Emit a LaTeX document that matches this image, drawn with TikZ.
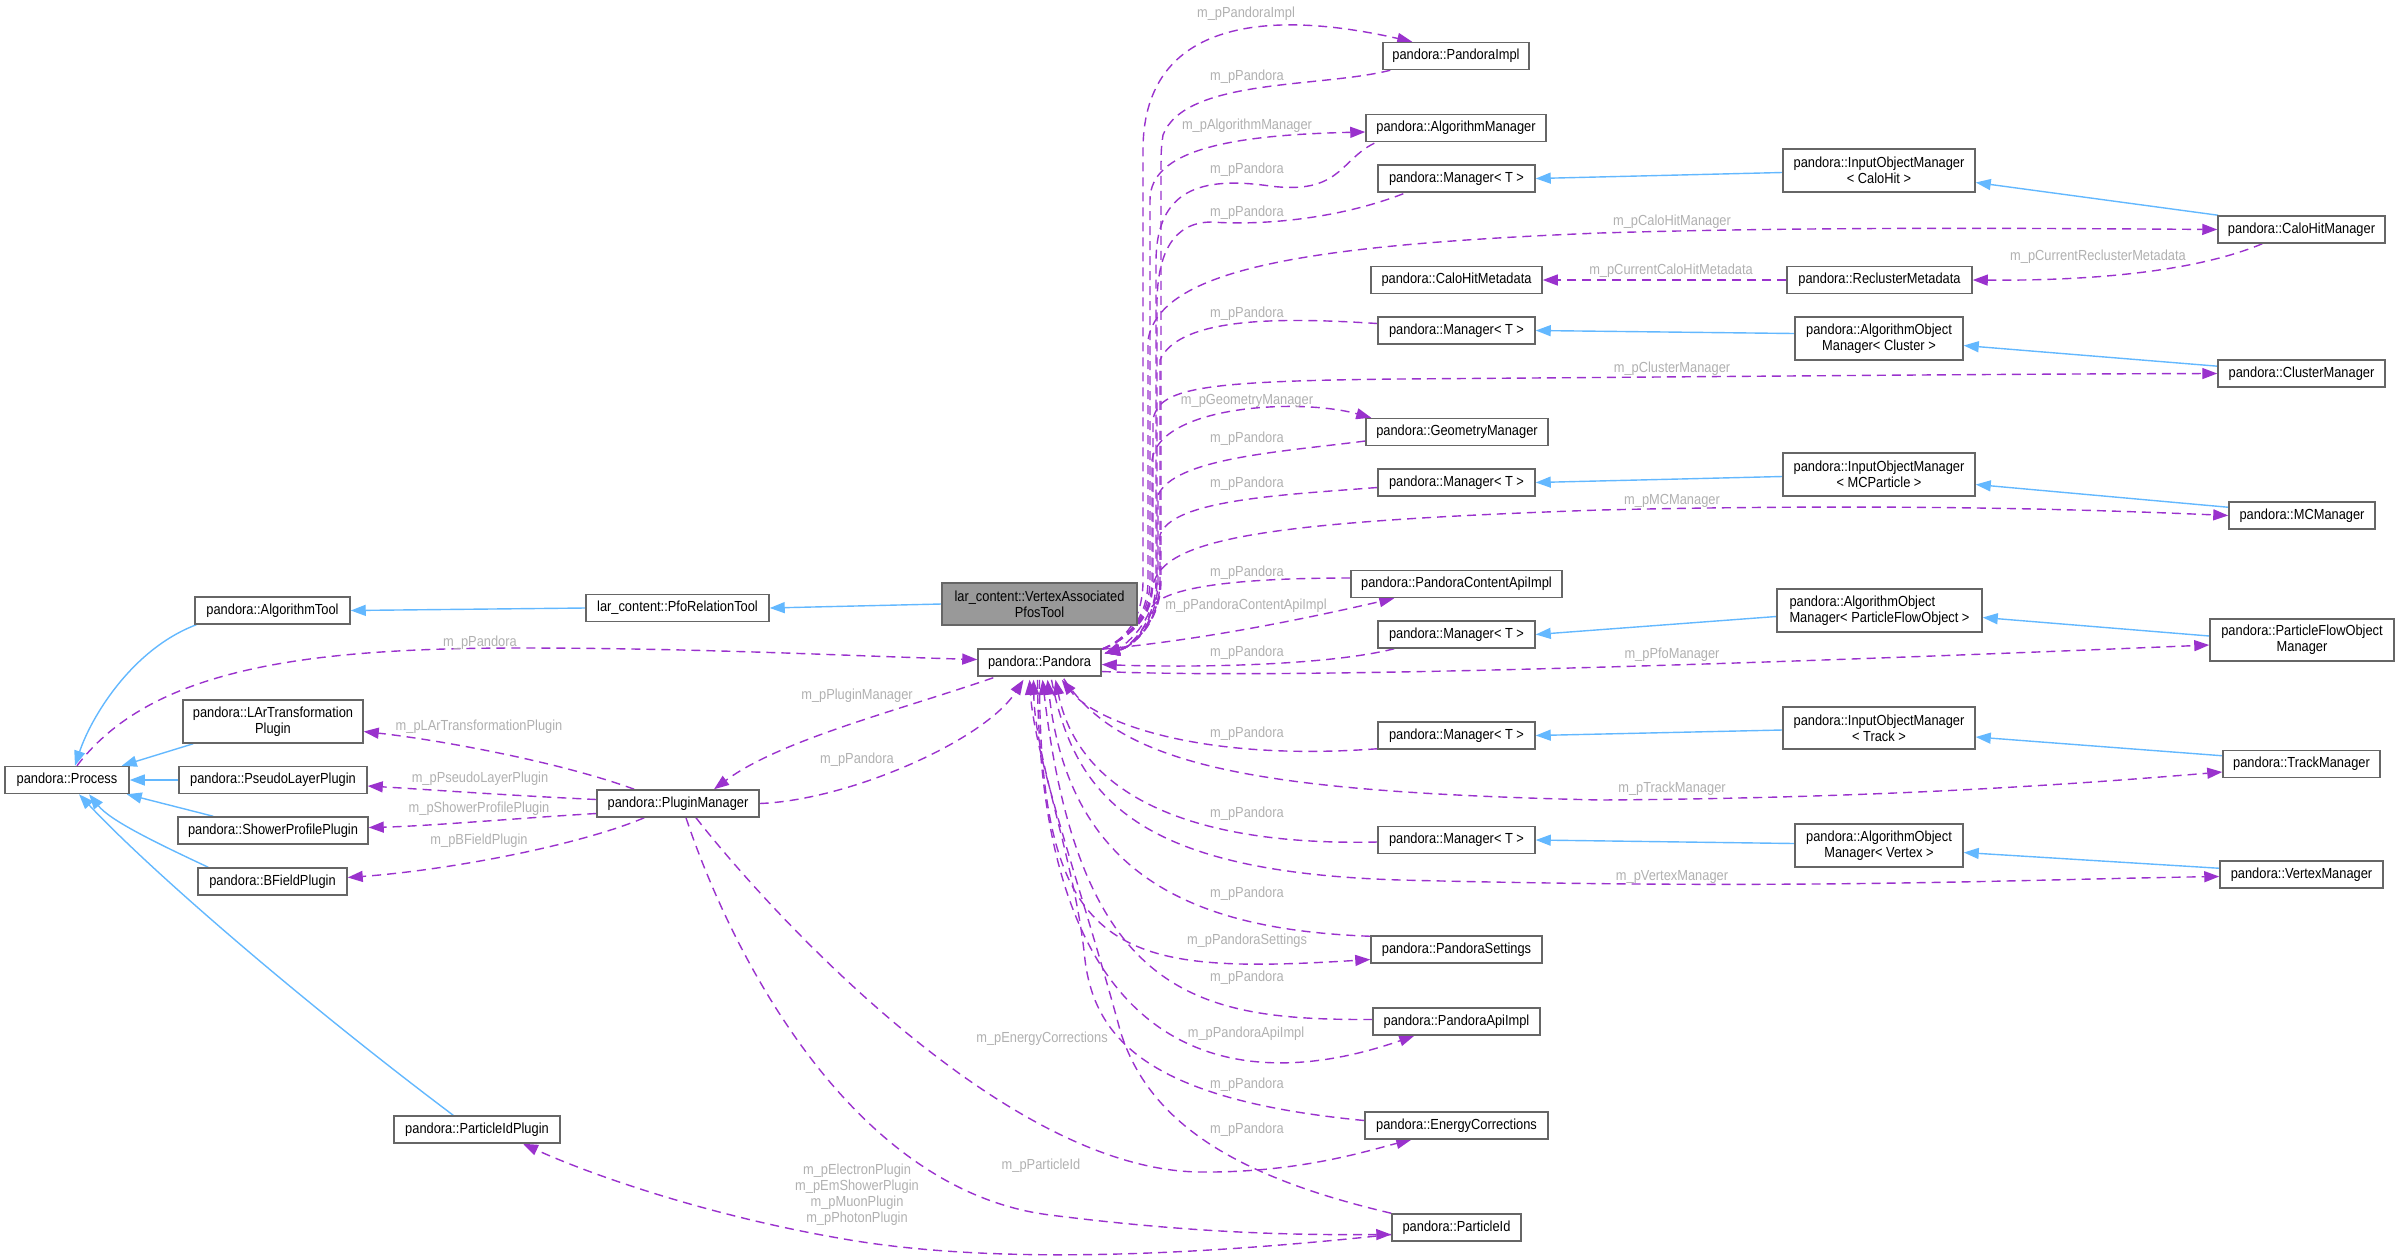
\documentclass[tikz,border=0pt]{standalone}
\usepackage{fontspec}
\setmainfont{Liberation Sans}[FakeStretch=0.88]
\usetikzlibrary{arrows.meta,calc}
\definecolor{purp}{HTML}{9A32CD}
\definecolor{lblue}{HTML}{63B8FF}
\definecolor{ngray}{HTML}{666666}
\definecolor{fgray}{HTML}{999999}
\definecolor{lgray}{HTML}{B0B0B0}
\pgfdeclarelayer{bg}
\pgfsetlayers{bg,main}
\newcommand\dfs{\fontsize{14.6pt}{15.7pt}\selectfont}
\newcommand\lfs{\fontsize{14.6pt}{16pt}\selectfont}
\tikzset{
  nbox/.style={draw=ngray, line width=1.5pt, fill=white, inner sep=0pt, align=center, font=\dfs, minimum height=27pt},
  nbox2/.style={nbox, minimum height=43pt},
  lbl/.style={text=lgray, inner sep=0pt, align=center, font=\lfs},
  usearr/.style={draw=purp, line width=1.4pt, dash pattern=on 9pt off 6pt, -{Triangle[length=15pt,width=11pt]}},
  inharr/.style={draw=lblue, line width=1.4pt, -{Triangle[length=15pt,width=11pt]}}
}
\begin{document}
\begin{tikzpicture}[x=1pt,y=-1pt]
\useasboundingbox (0,0) rectangle (2399,1259);
% ---------- nodes ----------
\node[nbox2, minimum width=195pt, minimum height=42pt, fill=fgray] (vapt) at (1039.5,604) {lar\_content::VertexAssociated\\PfosTool};
\node[nbox, minimum width=183pt] (pfort) at (677.5,608) {lar\_content::PfoRelationTool};
\node[nbox, minimum width=155pt] (algtool) at (272.5,610.5) {pandora::AlgorithmTool};
\node[nbox, minimum width=124pt] (process) at (67,780) {pandora::Process};
\node[nbox2, minimum width=180pt] (lartp) at (273,721.5) {pandora::LArTransformation\\Plugin};
\node[nbox, minimum width=188pt] (pslp) at (273,780) {pandora::PseudoLayerPlugin};
\node[nbox, minimum width=190pt] (shpp) at (273,830.5) {pandora::ShowerProfilePlugin};
\node[nbox, minimum width=149pt] (bfp) at (272.5,881.5) {pandora::BFieldPlugin};
\node[nbox, minimum width=166pt] (pidp) at (477,1129.5) {pandora::ParticleIdPlugin};
\node[nbox, minimum width=162pt] (plugmgr) at (678,803.5) {pandora::PluginManager};
\node[nbox, minimum width=123pt] (pandora) at (1039.5,662.5) {pandora::Pandora};
\node[nbox, minimum width=146pt] (pimpl) at (1456,56) {pandora::PandoraImpl};
\node[nbox, minimum width=180pt] (algmgr) at (1456,128) {pandora::AlgorithmManager};
\node[nbox, minimum width=157pt] (mgr1) at (1456.5,178.5) {pandora::Manager< T >};
\node[nbox, minimum width=171pt] (chmeta) at (1456.5,280) {pandora::CaloHitMetadata};
\node[nbox, minimum width=157pt] (mgr2) at (1456.5,330.5) {pandora::Manager< T >};
\node[nbox, minimum width=182pt] (geomgr) at (1457,432) {pandora::GeometryManager};
\node[nbox, minimum width=157pt] (mgr3) at (1456.5,482.5) {pandora::Manager< T >};
\node[nbox, minimum width=211pt] (pcapi) at (1456.5,584) {pandora::PandoraContentApiImpl};
\node[nbox, minimum width=157pt] (mgr4) at (1456.5,634.5) {pandora::Manager< T >};
\node[nbox, minimum width=157pt] (mgr5) at (1456.5,735.5) {pandora::Manager< T >};
\node[nbox, minimum width=157pt] (mgr6) at (1456.5,840) {pandora::Manager< T >};
\node[nbox, minimum width=171pt] (psettings) at (1456.5,949.5) {pandora::PandoraSettings};
\node[nbox, minimum width=167pt] (papi) at (1456.5,1021.5) {pandora::PandoraApiImpl};
\node[nbox, minimum width=183pt] (ecorr) at (1456.5,1125.5) {pandora::EnergyCorrections};
\node[nbox, minimum width=129pt] (pid) at (1456.5,1227.5) {pandora::ParticleId};
\node[nbox2, minimum width=192pt] (iomch) at (1879,170.5) {pandora::InputObjectManager\\< CaloHit >};
\node[nbox, minimum width=167pt] (chmgr) at (2301.5,229.5) {pandora::CaloHitManager};
\node[nbox, minimum width=185pt] (reclmeta) at (1879.5,280) {pandora::ReclusterMetadata};
\node[nbox2, minimum width=168pt] (aomcl) at (1879,338.5) {pandora::AlgorithmObject\\Manager< Cluster >};
\node[nbox, minimum width=167pt] (clmgr) at (2301.5,373.5) {pandora::ClusterManager};
\node[nbox2, minimum width=192pt] (iommc) at (1879,474.5) {pandora::InputObjectManager\\< MCParticle >};
\node[nbox, minimum width=146pt] (mcmgr) at (2302,515.5) {pandora::MCManager};
\node[nbox2, minimum width=205pt, align=left] (aompfo) at (1879.5,610.5) {pandora::AlgorithmObject\\Manager< ParticleFlowObject >};
\node[nbox2, minimum width=184pt, minimum height=42pt] (pfomgr) at (2302,640) {pandora::ParticleFlowObject\\Manager};
\node[nbox2, minimum width=192pt, minimum height=42pt] (iomtr) at (1879,728) {pandora::InputObjectManager\\< Track >};
\node[nbox, minimum width=157pt] (trmgr) at (2301.5,764) {pandora::TrackManager};
\node[nbox2, minimum width=168pt] (aomvx) at (1879,845.5) {pandora::AlgorithmObject\\Manager< Vertex >};
\node[nbox, minimum width=163pt] (vxmgr) at (2301.5,874.5) {pandora::VertexManager};
% anchors on Pandora
\coordinate (pin) at ($(pandora.north east)+(3,5)$);
\coordinate (pout) at ($(pandora.north east)+(0,1)$);
% ---------- edge labels ----------
\node[lbl] (l1) at (480,643) {m\_pPandora};
\node[lbl] (l2) at (479,727) {m\_pLArTransformationPlugin};
\node[lbl] (l3) at (480,779) {m\_pPseudoLayerPlugin};
\node[lbl] (l4) at (479,809) {m\_pShowerProfilePlugin};
\node[lbl] (l5) at (479,841) {m\_pBFieldPlugin};
\node[lbl] (l6) at (857,696) {m\_pPluginManager};
\node[lbl] (l7) at (857,760) {m\_pPandora};
\node[lbl] (l8) at (1246,14) {m\_pPandoraImpl};
\node[lbl] (l9) at (1247,77) {m\_pPandora};
\node[lbl] (l10) at (1247,126) {m\_pAlgorithmManager};
\node[lbl] (l11) at (1247,170) {m\_pPandora};
\node[lbl] (l12) at (1247,213) {m\_pPandora};
\node[lbl] (l13) at (1672,222) {m\_pCaloHitManager};
\node[lbl] (l14) at (1671,271) {m\_pCurrentCaloHitMetadata};
\node[lbl] (l15) at (2098,257) {m\_pCurrentReclusterMetadata};
\node[lbl] (l16) at (1247,314) {m\_pPandora};
\node[lbl] (l17) at (1672,369) {m\_pClusterManager};
\node[lbl] (l18) at (1247,401) {m\_pGeometryManager};
\node[lbl] (l19) at (1247,439) {m\_pPandora};
\node[lbl] (l20) at (1247,484) {m\_pPandora};
\node[lbl] (l21) at (1672,501) {m\_pMCManager};
\node[lbl] (l22) at (1247,573) {m\_pPandora};
\node[lbl] (l23) at (1246,606) {m\_pPandoraContentApiImpl};
\node[lbl] (l24) at (1247,653) {m\_pPandora};
\node[lbl] (l25) at (1672,655) {m\_pPfoManager};
\node[lbl] (l26) at (1247,734) {m\_pPandora};
\node[lbl] (l27) at (1672,789) {m\_pTrackManager};
\node[lbl] (l28) at (1247,814) {m\_pPandora};
\node[lbl] (l29) at (1672,877) {m\_pVertexManager};
\node[lbl] (l30) at (1247,894) {m\_pPandora};
\node[lbl] (l31) at (1247,941) {m\_pPandoraSettings};
\node[lbl] (l32) at (1247,978) {m\_pPandora};
\node[lbl] (l33) at (1246,1034) {m\_pPandoraApiImpl};
\node[lbl] (l34) at (1247,1085) {m\_pPandora};
\node[lbl] (l35) at (1042,1039) {m\_pEnergyCorrections};
\node[lbl] (l36) at (1247,1130) {m\_pPandora};
\node[lbl] (l37) at (1041,1166) {m\_pParticleId};
\node[lbl] (l38) at (857,1195) {m\_pElectronPlugin\\m\_pEmShowerPlugin\\m\_pMuonPlugin\\m\_pPhotonPlugin};
% ---------- edges ----------
\begin{pgfonlayer}{bg}
% inheritance
\draw[inharr] (vapt.west) -- (pfort.east);
\draw[inharr] (pfort.west) -- (algtool.east);
\draw[inharr] ($(algtool.south west)+(2,0)$) .. controls (130,650) and (90,720) .. ($(process.north)+(8,0)$);
\draw[inharr] ($(lartp.south west)+(11,0)$) -- ($(process.north east)+(-8,0)$);
\draw[inharr] (pslp.west) -- (process.east);
\draw[inharr] ($(shpp.north west)+(36,0)$) -- ($(process.south east)+(-3,0)$);
\draw[inharr] ($(bfp.north west)+(11,0)$) .. controls (150,840) and (110,820) .. ($(process.south)+(22,0)$);
\draw[inharr] ($(pidp.north west)+(60,0)$) .. controls (300,1000) and (150,870) .. ($(process.south)+(12,0)$);
\draw[inharr] ($(iomch.west)+(0,2)$) -- (mgr1.east);
\draw[inharr] ($(chmgr.north west)+(1,0)$) -- ($(iomch.east)+(0,12)$);
\draw[inharr] ($(aomcl.west)+(0,-5)$) -- (mgr2.east);
\draw[inharr] ($(clmgr.north west)+(1,7)$) -- ($(aomcl.east)+(0,7)$);
\draw[inharr] ($(iommc.west)+(0,2)$) -- (mgr3.east);
\draw[inharr] ($(mcmgr.north west)+(0,6)$) -- ($(iommc.east)+(0,10)$);
\draw[inharr] ($(aompfo.west)+(0,6)$) -- (mgr4.east);
\draw[inharr] ($(pfomgr.west)+(0,-4)$) -- ($(aompfo.east)+(0,7)$);
\draw[inharr] ($(iomtr.west)+(0,2)$) -- (mgr5.east);
\draw[inharr] ($(trmgr.north west)+(0,6)$) -- ($(iomtr.east)+(0,9)$);
\draw[inharr] ($(aomvx.west)+(0,-2)$) -- (mgr6.east);
\draw[inharr] ($(vxmgr.north west)+(0,8)$) -- ($(aomvx.east)+(0,7)$);
% usage: upper bundle
\draw[usearr] (pout) .. controls (1125,640) and (1143,620) .. (1143,580) -- (1143,150) .. controls (1143,30) and (1250,5) .. ($(pimpl.north west)+(30,0)$);
\draw[usearr] ($(pimpl.south west)+(8,0)$) .. controls (1320,88) and (1185,78) .. (1163,135) .. controls (1161,150) .. (1161,180) -- (1161,580) .. controls (1161,625) and (1130,648) .. (pin);
\draw[usearr] (pout) .. controls (1125,640) and (1150,620) .. (1150,580) -- (1150,200) .. controls (1150,150) and (1230,135) .. ($(algmgr.west)+(0,4)$);
\draw[usearr] ($(algmgr.south west)+(9,1)$) .. controls (1340,160) and (1340,195) .. (1270,186) .. controls (1200,176) and (1157,190) .. (1156,260) -- (1156,580) .. controls (1156,625) and (1128,648) .. (pin);
\draw[usearr] ($(mgr1.south west)+(26,1)$) .. controls (1330,222) and (1250,225) .. (1212,222) .. controls (1172,222) and (1158,255) .. (1157,300) -- (1157,580) .. controls (1157,625) and (1128,648) .. (pin);
\draw[usearr] (pout) .. controls (1125,640) and (1148,620) .. (1148,580) -- (1148,340) .. controls (1160,270) and (1300,245) .. (1600,233) .. controls (1800,227) and (2000,228) .. (chmgr.west);
\draw[usearr] (reclmeta.west) -- (chmeta.east);
\draw[usearr] ($(chmgr.south west)+(45,0)$) .. controls (2200,270) and (2100,281) .. (reclmeta.east);
\draw[usearr] ($(mgr2.west)+(0,-7)$) .. controls (1290,318) and (1180,315) .. (1160,360) -- (1160,580) .. controls (1160,625) and (1130,648) .. (pin);
\draw[usearr] (pout) .. controls (1125,640) and (1153,620) .. (1153,580) -- (1153,420) .. controls (1158,388) and (1200,381) .. (1400,379) .. controls (1800,376) and (2000,374) .. (clmgr.west);
\draw[usearr] (pout) .. controls (1125,640) and (1152,620) .. (1152,580) -- (1152,460) .. controls (1160,405) and (1300,398) .. ($(geomgr.north west)+(6,0)$);
\draw[usearr] ($(geomgr.west)+(0,9)$) .. controls (1280,452) and (1175,458) .. (1158,495) -- (1158,580) .. controls (1158,625) and (1130,648) .. (pin);
\draw[usearr] ($(mgr3.west)+(0,5)$) .. controls (1280,495) and (1172,500) .. (1160,535) -- (1160,580) .. controls (1160,625) and (1130,648) .. (pin);
\draw[usearr] (pout) .. controls (1125,640) and (1152,620) .. (1152,590) .. controls (1158,540) and (1250,522) .. (1600,510) .. controls (1900,503) and (2100,510) .. (mcmgr.west);
\draw[usearr] ($(pcapi.west)+(0,-6)$) .. controls (1250,578) and (1160,585) .. (1150,610) .. controls (1140,635) and (1120,648) .. (pin);
\draw[usearr] (pout) .. controls (1200,640) and (1300,620) .. ($(pcapi.south west)+(44,0)$);
\draw[usearr] ($(mgr4.south west)+(17,0)$) .. controls (1330,665) and (1200,668) .. ($(pandora.east)+(0,2)$);
\draw[usearr] ($(pandora.east)+(0,9)$) .. controls (1300,680) and (1800,662) .. ($(pfomgr.west)+(0,5)$);
% usage: lower fan
\draw[usearr] ($(mgr5.south west)+(0,-1)$) .. controls (1200,762) and (1095,722) .. ($(pandora.south east)+(-40,3)$);
\draw[usearr] ($(pandora.south east)+(-38,2)$) .. controls (1120,765) and (1250,792) .. (1600,800) .. controls (1900,798) and (2100,782) .. ($(trmgr.west)+(0,8)$);
\draw[usearr] ($(mgr6.west)+(0,2)$) .. controls (1200,846) and (1080,800) .. ($(pandora.south)+(16,3)$);
\draw[usearr] ($(pandora.south)+(12,3)$) .. controls (1075,800) and (1140,872) .. (1400,880) .. controls (1800,890) and (2000,880) .. ($(vxmgr.west)+(0,2)$);
\draw[usearr] ($(psettings.north west)+(0,1)$) .. controls (1200,930) and (1070,880) .. ($(pandora.south)+(8,3)$);
\draw[usearr] ($(pandora.south)+(0,3)$) .. controls (1040,960) and (1120,975) .. ($(psettings.west)+(0,10)$);
\draw[usearr] ($(papi.west)+(0,-2)$) .. controls (1200,1020) and (1080,1000) .. ($(pandora.south)+(3,3)$);
\draw[usearr] ($(pandora.south)+(-2,3)$) .. controls (1040,1060) and (1230,1100) .. ($(papi.south west)+(42,0)$);
\draw[usearr] ($(ecorr.west)+(0,-5)$) .. controls (1150,1100) and (1095,1040) .. (1085,960) .. controls (1075,860) and (1035,760) .. ($(pandora.south)+(-6,3)$);
\draw[usearr] (pid.north west) .. controls (1250,1180) and (1150,1130) .. (1120,1030) .. controls (1085,900) and (1035,760) .. ($(pandora.south)+(-10,3)$);
% usage: left part
\draw[usearr] ($(process.north)+(10,0)$) .. controls (150,670) and (300,648) .. (520,648) .. controls (700,648) and (850,656) .. ($(pandora.west)+(0,-3)$);
\draw[usearr] (plugmgr.east) .. controls (850,800) and (985,740) .. ($(pandora.south)+(-16,3)$);
\draw[usearr] ($(pandora.south west)+(16,1)$) .. controls (900,710) and (780,740) .. ($(plugmgr.north)+(36,0)$);
\draw[usearr] ($(plugmgr.north west)+(38,0)$) .. controls (560,762) and (440,740) .. ($(lartp.east)+(0,10)$);
\draw[usearr] ($(plugmgr.west)+(0,-4)$) .. controls (500,795) and (420,789) .. ($(pslp.east)+(0,6)$);
\draw[usearr] ($(plugmgr.west)+(0,10)$) .. controls (520,818) and (430,826) .. ($(shpp.east)+(0,-3)$);
\draw[usearr] ($(plugmgr.south west)+(48,0)$) .. controls (580,845) and (450,870) .. ($(bfp.east)+(0,-4)$);
\draw[usearr] ($(plugmgr.south)+(18,0)$) .. controls (760,900) and (1000,1170) .. (1200,1172) .. controls (1300,1173) and (1370,1150) .. ($(ecorr.south west)+(47,0)$);
\draw[usearr] ($(plugmgr.south)+(8,0)$) .. controls (730,950) and (850,1190) .. (1050,1215) .. controls (1200,1234) and (1300,1235) .. ($(pid.west)+(0,7)$);
\draw[usearr] ($(pid.west)+(0,7)$) .. controls (1200,1255) and (1000,1265) .. (850,1240) .. controls (700,1215) and (580,1170) .. ($(pidp.south)+(46,0)$);
\end{pgfonlayer}
\end{tikzpicture}
\end{document}
